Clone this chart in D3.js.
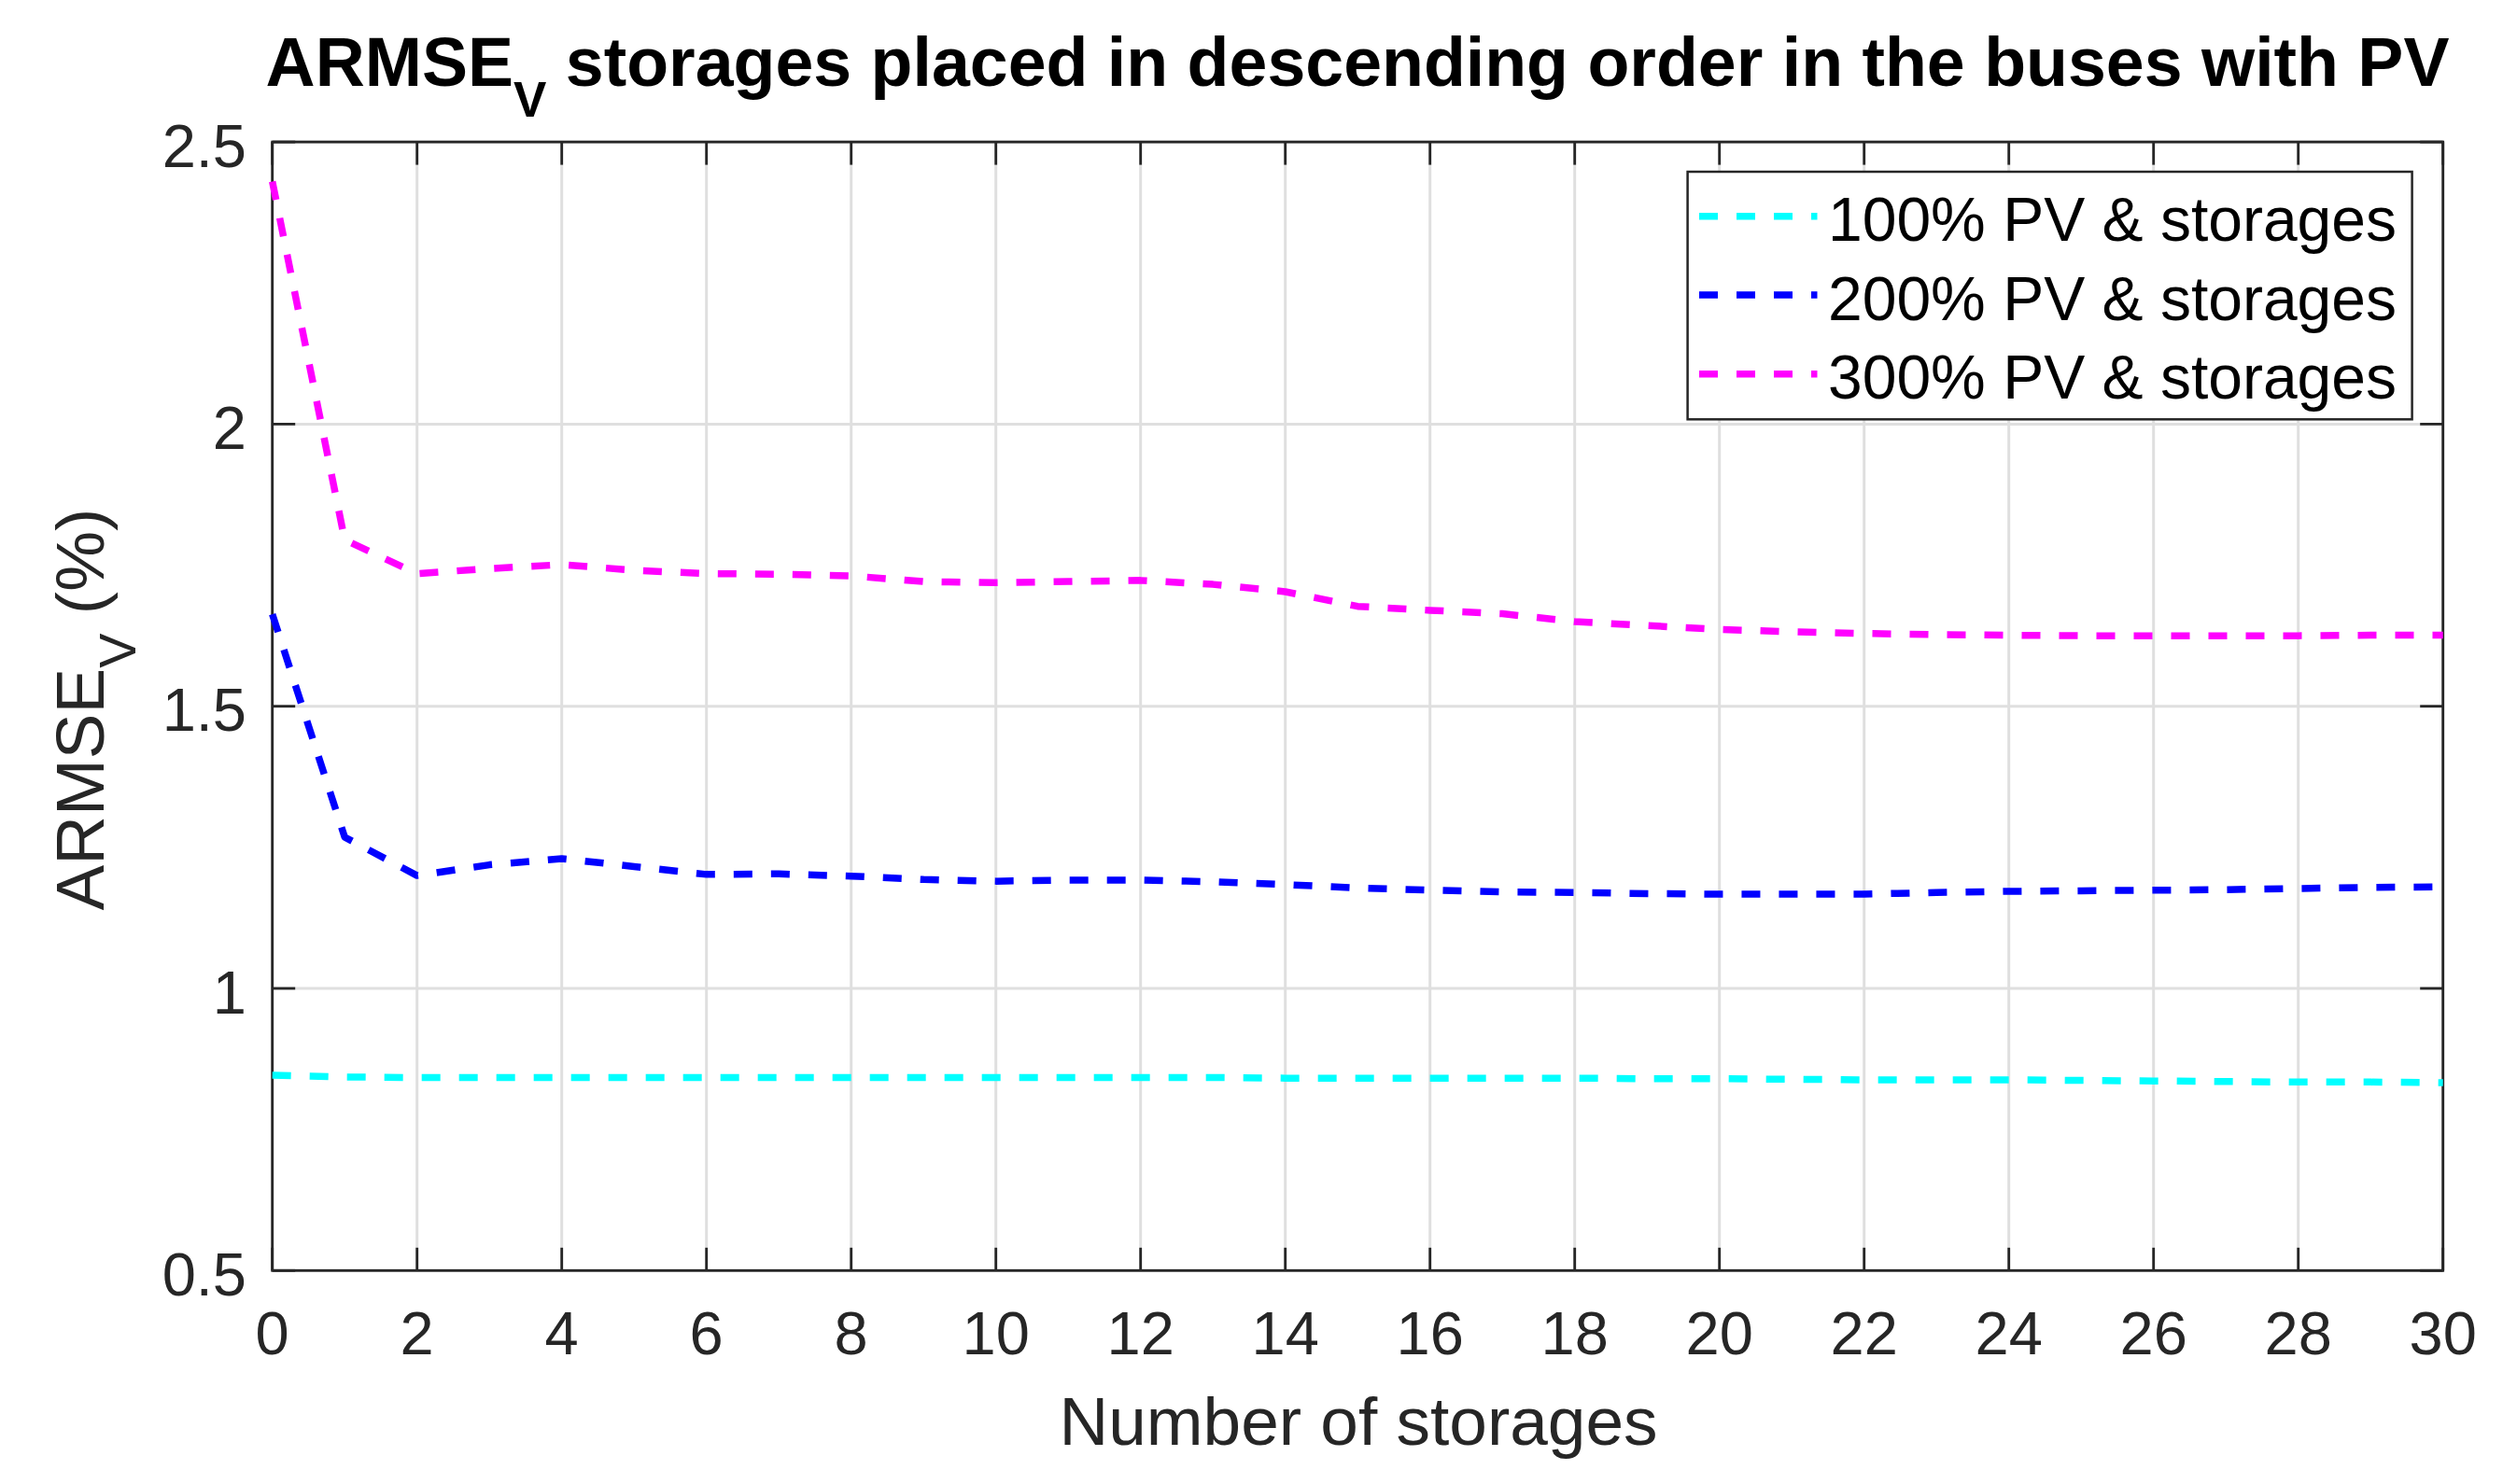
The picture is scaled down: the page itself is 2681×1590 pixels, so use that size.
<!DOCTYPE html>
<html>
<head>
<meta charset="utf-8">
<script src="https://cdn.jsdelivr.net/npm/d3@7"></script>
<style>
  html, body { margin: 0; padding: 0; background: #ffffff; }
  svg { display: block; }
  text { font-family: "Liberation Sans", Arial, Helvetica, sans-serif; }
</style>
</head>
<body>
<svg id="chart" width="2681" height="1590"></svg>
<script>
// ---------- data ----------
const storages = d3.range(0, 31); // 0..30
const pv100 = [0.846, 0.843, 0.842, 0.842, 0.842, 0.842, 0.842, 0.842, 0.842, 0.842,
               0.842, 0.842, 0.842, 0.842, 0.841, 0.841, 0.841, 0.841, 0.841, 0.840,
               0.840, 0.839, 0.838, 0.838, 0.838, 0.837, 0.836, 0.835, 0.834, 0.834, 0.833];
const pv200 = [1.663, 1.268, 1.200, 1.219, 1.230, 1.216, 1.202, 1.203, 1.199, 1.193,
               1.190, 1.192, 1.192, 1.189, 1.184, 1.178, 1.174, 1.171, 1.170, 1.168,
               1.167, 1.167, 1.167, 1.170, 1.172, 1.173, 1.174, 1.175, 1.177, 1.179, 1.180];
const pv300 = [2.430, 1.795, 1.735, 1.744, 1.751, 1.741, 1.735, 1.734, 1.731, 1.721,
               1.719, 1.721, 1.723, 1.716, 1.703, 1.677, 1.670, 1.664, 1.650, 1.643,
               1.636, 1.632, 1.629, 1.627, 1.626, 1.625, 1.625, 1.625, 1.625, 1.626, 1.626];
const seriesNames = ["100% PV & storages", "200% PV & storages", "300% PV & storages"];
const seriesColors = ["#00ffff", "#0000ff", "#ff00ff"];
const xTicks = d3.range(0, 31, 2);
const yTicks = [0.5, 1, 1.5, 2, 2.5];
const yTickLabels = ["0.5", "1", "1.5", "2", "2.5"];

// ---------- layout ----------
const svg = d3.select("#chart");
const L = 291.7, R = 2616.7, T = 152.1, B = 1361.3;
const x = d3.scaleLinear().domain([0, 30]).range([L, R]);
const y = d3.scaleLinear().domain([0.5, 2.5]).range([B, T]);
const axisColor = "#262626";
const tickLen = 24.5;

// grid
const grid = svg.append("g");
grid.selectAll(".gx").data(xTicks).join("line")
  .attr("x1", d => x(d)).attr("x2", d => x(d)).attr("y1", T).attr("y2", B)
  .attr("stroke", "#dfdfdf").attr("stroke-width", 3);
grid.selectAll(".gy").data(yTicks).join("line")
  .attr("x1", L).attr("x2", R).attr("y1", d => y(d)).attr("y2", d => y(d))
  .attr("stroke", "#dfdfdf").attr("stroke-width", 3);

// axes box & ticks
const ax = svg.append("g").attr("stroke", axisColor).attr("stroke-width", 2.8);
ax.append("rect").attr("x", L).attr("y", T).attr("width", R - L).attr("height", B - T)
  .attr("fill", "none");
xTicks.forEach(t => {
  ax.append("line").attr("x1", x(t)).attr("x2", x(t)).attr("y1", B).attr("y2", B - tickLen);
  ax.append("line").attr("x1", x(t)).attr("x2", x(t)).attr("y1", T).attr("y2", T + tickLen);
});
yTicks.forEach(t => {
  ax.append("line").attr("x1", L).attr("x2", L + tickLen).attr("y1", y(t)).attr("y2", y(t));
  ax.append("line").attr("x1", R).attr("x2", R - tickLen).attr("y1", y(t)).attr("y2", y(t));
});

// tick labels
svg.append("g").selectAll("text").data(xTicks).join("text")
  .attr("x", d => x(d)).attr("y", 1450.7)
  .attr("text-anchor", "middle").attr("font-size", 65).attr("fill", axisColor)
  .text(d => d);
svg.append("g").selectAll("text").data(yTicks).join("text")
  .attr("x", 264).attr("y", d => y(d) + 26.5)
  .attr("text-anchor", "end").attr("font-size", 65).attr("fill", axisColor)
  .text((d, i) => yTickLabels[i]);

// data lines
const line = d3.line().x((d, i) => x(storages[i])).y(d => y(d));
[pv100, pv200, pv300].forEach((s, k) => {
  svg.append("path").datum(s).attr("d", line)
    .attr("fill", "none").attr("stroke", seriesColors[k])
    .attr("stroke-width", 7.5).attr("stroke-dasharray", "20 20")
    .attr("stroke-linejoin", "round");
});

// title
const title = svg.append("text").attr("x", 1454).attr("y", 91.7)
  .attr("text-anchor", "middle").attr("font-size", 73.5).attr("font-weight", "bold")
  .attr("fill", "#000000");
title.append("tspan").text("ARMSE");
title.append("tspan").attr("font-size", 53).attr("dy", 33).text("V");
title.append("tspan").attr("dy", -33).text(" storages placed in descending order in the buses with PV");

// x label
svg.append("text").attr("x", 1455).attr("y", 1547.7)
  .attr("text-anchor", "middle").attr("font-size", 73).attr("fill", axisColor)
  .text("Number of storages");

// y label
const yl = svg.append("text").attr("transform", "translate(111,760) rotate(-90)")
  .attr("text-anchor", "middle").attr("font-size", 73).attr("fill", axisColor);
yl.append("tspan").text("ARMSE");
yl.append("tspan").attr("font-size", 56).attr("dy", 34).text("V");
yl.append("tspan").attr("dy", -34).text(" (%)");

// legend
const lg = svg.append("g");
lg.append("rect").attr("x", 1807.6).attr("y", 184).attr("width", 776).attr("height", 265.3)
  .attr("fill", "#ffffff").attr("stroke", axisColor).attr("stroke-width", 2.5);
const rowY = [231.7, 315.9, 400.7];
seriesNames.forEach((name, k) => {
  lg.append("line").attr("x1", 1820).attr("x2", 1946.5)
    .attr("y1", rowY[k]).attr("y2", rowY[k])
    .attr("stroke", seriesColors[k]).attr("stroke-width", 7.5).attr("stroke-dasharray", "20 20");
  lg.append("text").attr("x", 1958).attr("y", rowY[k] + 26.6)
    .attr("font-size", 66).attr("fill", "#000000").text(name);
});
</script>
</body>
</html>
